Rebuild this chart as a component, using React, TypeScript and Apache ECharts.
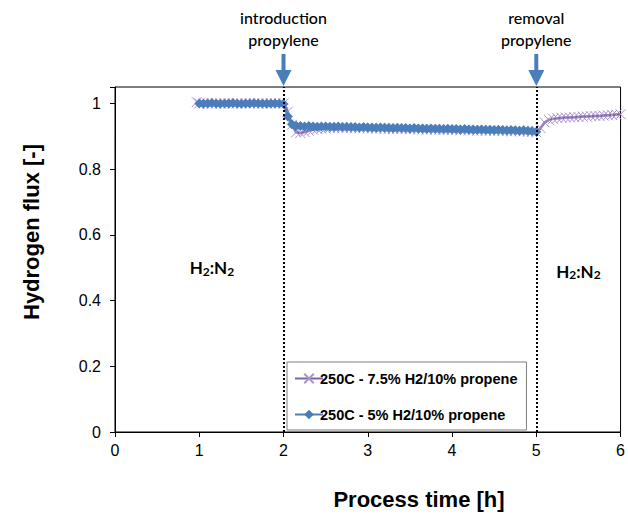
import React, { useEffect, useRef } from "react";
import * as echarts from "echarts";

// Time grid in hours (shared sampling of the logged data)
const timeGrid = [
  1.0, 1.05, 1.1, 1.15, 1.2, 1.25, 1.3, 1.35, 1.4, 1.45,
  1.5, 1.55, 1.6, 1.65, 1.7, 1.75, 1.8, 1.85, 1.9, 1.95,
  2.0, 2.05, 2.1, 2.15, 2.2, 2.25, 2.3, 2.35, 2.4, 2.45,
  2.5, 2.55, 2.6, 2.65, 2.7, 2.75, 2.8, 2.85, 2.9, 2.95,
  3.0, 3.05, 3.1, 3.15, 3.2, 3.25, 3.3, 3.35, 3.4, 3.45,
  3.5, 3.55, 3.6, 3.65, 3.7, 3.75, 3.8, 3.85, 3.9, 3.95,
  4.0, 4.05, 4.1, 4.15, 4.2, 4.25, 4.3, 4.35, 4.4, 4.45,
  4.5, 4.55, 4.6, 4.65, 4.7, 4.75, 4.8, 4.85, 4.9, 4.95,
  5.0, 5.05, 5.1, 5.15, 5.2, 5.25, 5.3, 5.35, 5.4, 5.45,
  5.5, 5.55, 5.6, 5.65, 5.7, 5.75, 5.8, 5.85, 5.9, 5.95,
  6.0,
];

const timePurple = [0.97, ...timeGrid];
const timeBlue = timeGrid.slice(0, 81);

// 250C - 7.5% H2/10% propene
const fluxPurple = [
  1.004,
  1.0, 1.001, 1.0, 0.999, 1.0, 1.0, 1.001, 1.0, 0.999, 1.0,
  1.0, 1.001, 1.0, 1.0, 0.999, 1.0, 1.0, 1.001, 1.0, 1.0,
  1.0,
  0.975, 0.935, 0.912, 0.91, 0.913, 0.917, 0.92, 0.922, 0.923,
  0.924, 0.925, 0.925, 0.926, 0.925, 0.926, 0.925, 0.925, 0.924, 0.925, 0.924,
  0.924, 0.923, 0.924, 0.923, 0.923, 0.922, 0.923, 0.922, 0.922, 0.921,
  0.922, 0.921, 0.921, 0.92, 0.921, 0.92, 0.92, 0.919, 0.92, 0.919,
  0.919, 0.918, 0.919, 0.918, 0.918, 0.917, 0.918, 0.917, 0.917, 0.916,
  0.917, 0.916, 0.916, 0.915, 0.916, 0.915, 0.915, 0.914, 0.913, 0.912,
  0.925, 0.942, 0.95, 0.953, 0.955,
  0.956, 0.957, 0.957, 0.958, 0.959, 0.96, 0.96, 0.961, 0.962, 0.962,
  0.963, 0.964, 0.965, 0.966, 0.967,
];

// 250C - 5% H2/10% propene
const fluxBlue = [
  1.0, 0.999, 1.0, 1.001, 1.0, 0.999, 1.0, 1.0, 1.001, 1.0,
  0.999, 1.0, 1.0, 1.001, 1.0, 1.0, 0.999, 1.0, 1.0, 1.0,
  0.998,
  0.96, 0.937, 0.932, 0.931,
  0.93, 0.931, 0.93, 0.929, 0.93, 0.93, 0.929, 0.929, 0.93, 0.928,
  0.929, 0.928, 0.928, 0.927, 0.928, 0.927,
  0.927, 0.926, 0.927, 0.926, 0.926, 0.925, 0.926, 0.925, 0.925, 0.924,
  0.925, 0.924, 0.924, 0.923, 0.924, 0.923, 0.923, 0.922, 0.923, 0.922,
  0.922, 0.921, 0.922, 0.921, 0.921, 0.92, 0.921, 0.92, 0.92, 0.919,
  0.92, 0.919, 0.918, 0.919, 0.918, 0.917, 0.918, 0.917, 0.916, 0.914,
];

const seriesNames = ["250C - 7.5% H2/10% propene", "250C - 5% H2/10% propene"];
const eventTimes = [2, 5];
const eventLabels = ["introduction\npropylene", "removal\npropylene"];
const gasTimes = [1.15, 5.5];
const gasY = [0.5, 0.49];

const PURPLE_LINE = "#7f63a8";
const PURPLE_MARK = "#a994cc";
const BLUE = "#4a7ebb";
const AXIS_FONT = "'Liberation Sans', Arial, sans-serif";
const CAL_FONT = "Lato, 'Open Sans', sans-serif";

export default function App() {
  const ref = useRef<HTMLDivElement>(null);

  useEffect(() => {
    document.body.style.margin = "0";
    if (!ref.current) return;
    const chart = echarts.init(ref.current, null, { renderer: "svg" });

    const option: any = {
      animation: false,
      backgroundColor: "#fff",
      grid: {
        left: 115,
        right: 6,
        top: 87,
        bottom: 83,
        show: true,
        borderColor: "#000",
        borderWidth: 1,
        backgroundColor: "transparent",
      },
      xAxis: {
        type: "value",
        min: 0,
        max: 6,
        interval: 1,
        axisLine: { lineStyle: { color: "#000", width: 1 } },
        axisTick: { show: true, length: 5, lineStyle: { color: "#000" } },
        splitLine: { show: false },
        axisLabel: {
          color: "#000",
          fontSize: 16,
          fontFamily: AXIS_FONT,
          margin: 10,
        },
      },
      yAxis: {
        type: "value",
        min: 0,
        max: 1.05,
        interval: 0.2,
        axisLine: { show: true, lineStyle: { color: "#000", width: 1 } },
        axisTick: { show: true, length: 5, lineStyle: { color: "#000" } },
        splitLine: { show: false },
        axisLabel: {
          color: "#000",
          fontSize: 16,
          fontFamily: AXIS_FONT,
          margin: 14,
          formatter: (v: number) => {
            const r = Math.round(v * 10) / 10;
            if (Math.abs(v - r) > 1e-6 || Math.round(r * 10) % 2 !== 0) return "";
            return String(r);
          },
        },
      },
      legend: {
        orient: "vertical",
        left: 287,
        top: 362,
        data: seriesNames,
        itemWidth: 28,
        itemHeight: 12,
        itemGap: 21,
        padding: [9, 9, 8, 7],
        borderColor: "#7f7f7f",
        borderWidth: 1,
        backgroundColor: "#fff",
        textStyle: {
          color: "#000",
          fontSize: 14.5,
          fontWeight: "bold",
          fontFamily: AXIS_FONT,
          padding: [0, 0, 0, -8],
        },
      },
      series: [
        {
          name: seriesNames[0],
          type: "line",
          data: timePurple.map((t, i) => [t, fluxPurple[i]]),
          symbol: "path://M0,0L10,10M10,0L0,10",
          symbolSize: 10,
          showSymbol: true,
          lineStyle: { color: PURPLE_LINE, width: 2.5 },
          itemStyle: { color: "none", borderColor: PURPLE_MARK, borderWidth: 1 },
          z: 2,
        },
        {
          name: seriesNames[1],
          type: "line",
          data: timeBlue.map((t, i) => [t, fluxBlue[i]]),
          symbol: "diamond",
          symbolSize: 10,
          showSymbol: true,
          lineStyle: { color: BLUE, width: 2 },
          itemStyle: { color: BLUE, borderColor: BLUE, borderWidth: 0 },
          z: 3,
          markLine: {
            silent: true,
            symbol: ["none", "none"],
            label: { show: false },
            lineStyle: { color: "#000", type: [2, 2], width: 2 },
            data: eventTimes.map((t) => ({ xAxis: t })),
          },
        },
      ],
    };

    chart.setOption(option);

    const px = (x: number, y: number) =>
      chart.convertToPixel({ gridIndex: 0 }, [x, y]) as number[];

    const graphics: any[] = [];
    eventTimes.forEach((t, i) => {
      const [x] = px(t, 1);
      graphics.push({
        type: "text",
        x,
        y: 28,
        style: {
          text: eventLabels[i],
          fill: "#000",
          font: `500 16px ${CAL_FONT}`,
          lineHeight: 22,
          align: "center",
          verticalAlign: "middle",
        },
      });
      graphics.push({
        type: "line",
        shape: { x1: x, y1: 54, x2: x, y2: 74 },
        style: { stroke: BLUE, lineWidth: 4 },
      });
      graphics.push({
        type: "polygon",
        shape: {
          points: [
            [x - 8, 70],
            [x + 8, 70],
            [x, 86],
          ],
        },
        style: { fill: BLUE },
      });
    });

    gasTimes.forEach((t, i) => {
      const [x, y] = px(t, gasY[i]);
      graphics.push({
        type: "text",
        x,
        y,
        style: {
          text: "{m|H}{s|2}{m|:N}{s|2}",
          align: "center",
          verticalAlign: "middle",
          rich: {
            m: { font: `bold 17px ${CAL_FONT}`, fill: "#000" },
            s: {
              font: `bold 12px ${CAL_FONT}`,
              fill: "#000",
              padding: [7, 0, 0, 0],
            },
          },
        },
      });
    });

    graphics.push({
      type: "text",
      x: 419,
      y: 499,
      style: {
        text: "Process time [h]",
        fill: "#000",
        font: `bold 22px ${AXIS_FONT}`,
        align: "center",
        verticalAlign: "middle",
      },
    });
    graphics.push({
      type: "text",
      x: 31,
      y: 232,
      rotation: Math.PI / 2,
      style: {
        text: "Hydrogen flux [-]",
        fill: "#000",
        font: `bold 22px ${AXIS_FONT}`,
        align: "center",
        verticalAlign: "middle",
      },
    });

    chart.setOption({ graphic: graphics });

    return () => chart.dispose();
  }, []);

  return <div ref={ref} style={{ width: 628, height: 515 }} />;
}
